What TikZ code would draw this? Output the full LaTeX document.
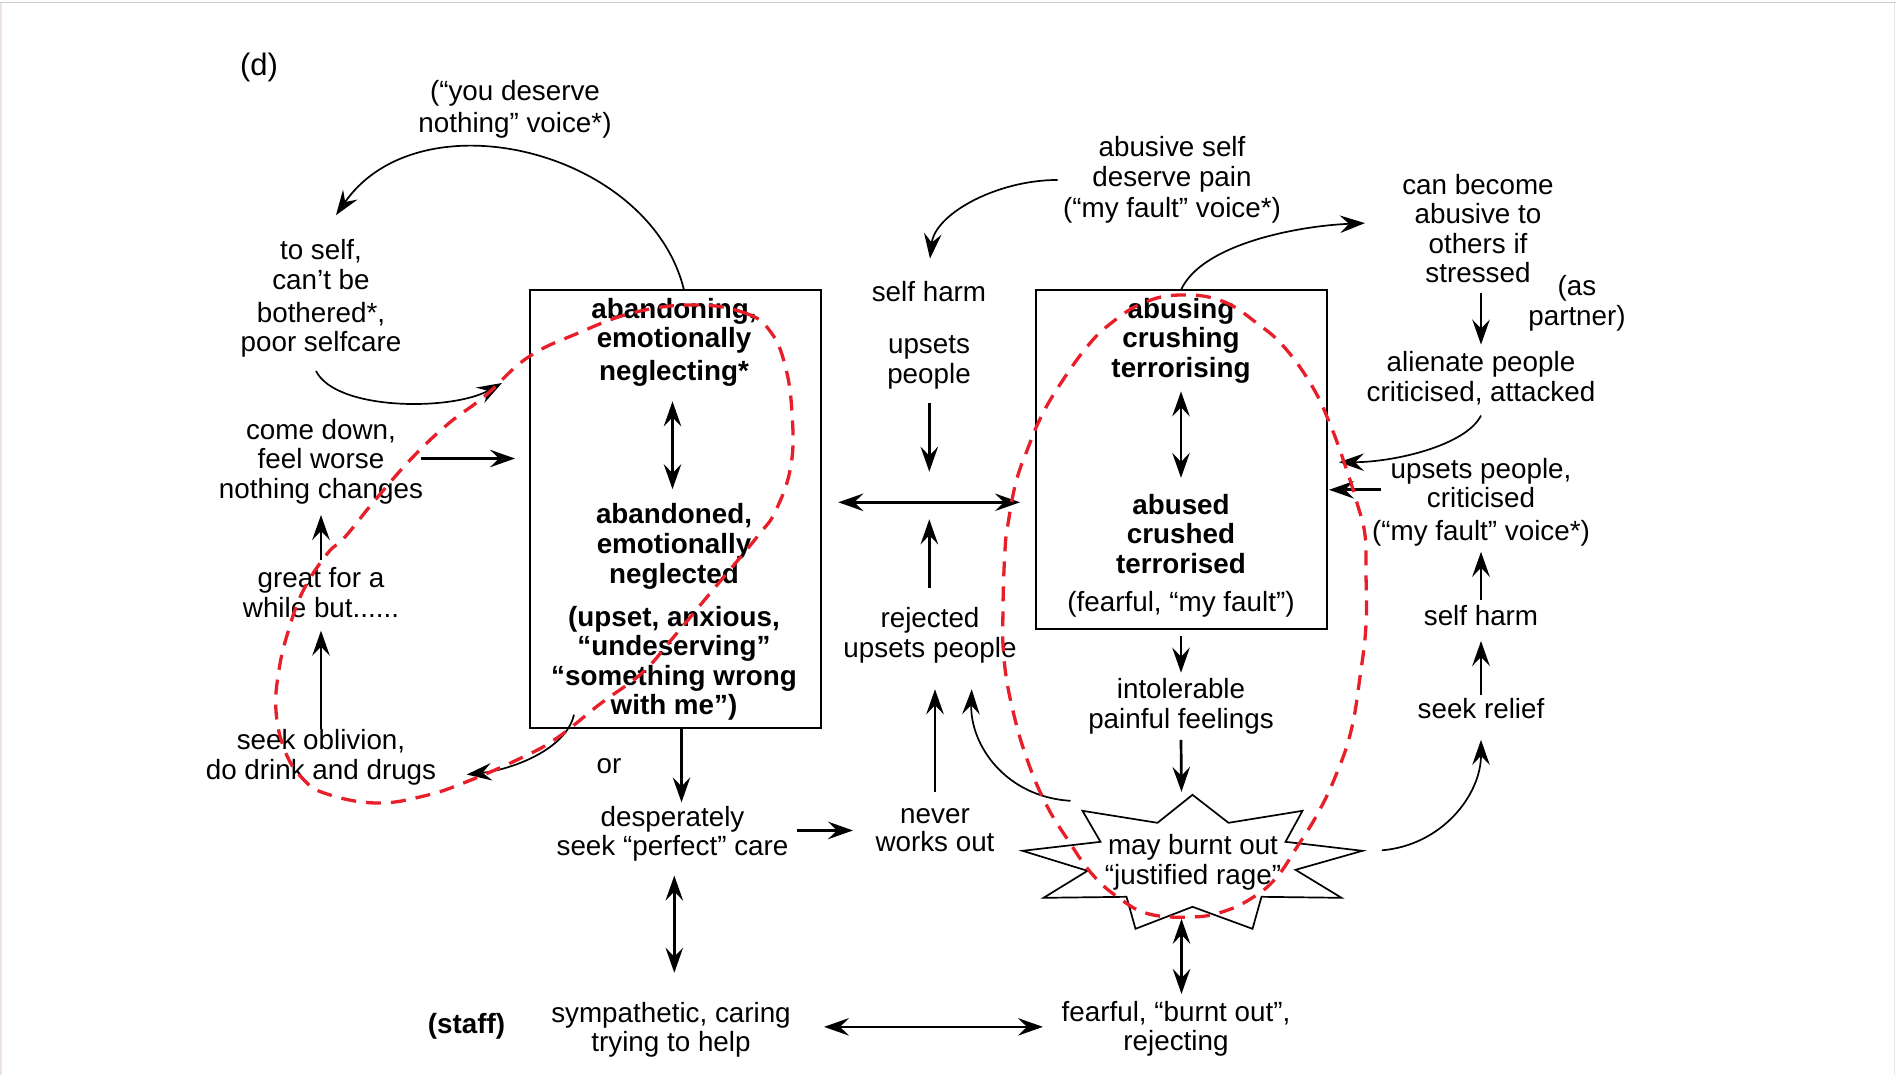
\documentclass[tikz,border=0pt]{standalone}
\usepackage{fontspec}
\setmainfont{Liberation Sans}
\usetikzlibrary{arrows.meta,calc}
\definecolor{ringred}{RGB}{232,30,40}
\definecolor{edgegray}{RGB}{205,205,205}
\definecolor{edgepink}{RGB}{238,226,230}
\newcommand\txtsize{\fontsize{27.8pt}{29.5pt}\selectfont}

\begin{document}
\begin{tikzpicture}[x=1pt,y=-1pt,
  lbl/.style={font=\txtsize, align=center, inner sep=0pt, outer sep=0pt, anchor=base},
  blbl/.style={lbl, font=\txtsize\bfseries},
  boxframe/.style={draw, line width=2.8pt, inner sep=0pt, outer sep=0pt},
  headtip/.style={-{Stealth[length=25pt,width=17.5pt,inset=9pt]}},
  arr/.style={line width=2.7pt, headtip},
  darr/.style={line width=2.7pt, {Stealth[length=25pt,width=17.5pt,inset=9pt]}-{Stealth[length=25pt,width=17.5pt,inset=9pt]}},
  curv/.style={line width=1.7pt, headtip},
  burst/.style={draw, line width=1.7pt, line join=miter},
  ringdash/.style={draw=ringred, line width=3.3pt, dash pattern=on 15pt off 10pt},
]
% (a multi-line label is placed by the baseline of its last line)
\useasboundingbox (0,0) rectangle (1896,1075);
\fill[white] (0,0) rectangle (1896,1075);
\draw[edgegray, line width=1.5pt] (0,2.5) -- (1896,2.5);
\draw[edgepink, line width=1.5pt] (0.75,3) -- (0.75,1075);
\draw[edgepink, line width=1.5pt] (1894.5,3) -- (1894.5,1075);

% ---------- left column ----------
\node[lbl, font=\fontsize{31pt}{34pt}\selectfont] (tag) at (259,76) {(d)};
\node[lbl] (voice) at (515,132.6) {(“you deserve\\[2.5pt]nothing” voice*)};
\node[lbl] (toself) at (321,352) {to self,\\can’t be\\[3.5pt]bothered*,\\poor selfcare};
\node[lbl] (comedown) at (321,498) {come down,\\feel worse\\nothing changes};
\node[lbl] (great) at (321,617) {great for a\\while but......};
\node[lbl] (oblivion) at (321,779) {seek oblivion,\\do drink and drugs};

% ---------- left box ----------
\node[boxframe, minimum width=291pt, minimum height=438pt] (boxL) at (675.5,509) {};
\node[blbl] (abandoning) at (674,380.5) {abandoning,\\emotionally\\[3pt]neglecting*};
\node[blbl] (abandoned) at (674,583.5) {abandoned,\\[0.5pt]emotionally\\[0.5pt]neglected};
\node[blbl] (upset) at (674,714.5) {(upset, anxious,\\“undeserving”\\“something wrong\\with me”)};

% ---------- right box ----------
\node[boxframe, minimum width=291pt, minimum height=339pt] (boxR) at (1181.5,459.5) {};
\node[blbl] (abusing) at (1181,377.3) {abusing\\crushing\\terrorising};
\node[blbl] (abused) at (1181,573) {abused\\crushed\\terrorised};
\node[lbl] (fearfulfault) at (1181,611.7) {(fearful, “my fault”)};

% ---------- middle column ----------
\node[lbl] (selfharmM) at (929,301.7) {self harm};
\node[lbl] (upsetsM) at (929,383.3) {upsets\\people};
\coordinate (hub) at (929.3,502.3);
\node[lbl] (rejected) at (930,657.3) {rejected\\upsets people};
\node[lbl] (never) at (935,851.7) {never\\[-1pt]works out};
\node[lbl] (or) at (609,773.7) {or};
\node[lbl] (desperate) at (672.5,855.6) {desperately\\seek “perfect” care};
\node[blbl] (staff) at (466.5,1033) {(staff)};
\node[lbl] (sympathetic) at (671,1051.8) {sympathetic, caring\\trying to help};
\node[lbl] (burntout) at (1176,1050) {fearful, “burnt out”,\\[-1pt]rejecting};

% ---------- right column ----------
\node[lbl] (abusive) at (1172,217.2) {abusive self\\deserve pain\\[1.5pt](“my fault” voice*)};
\node[lbl] (become) at (1478,282.8) {can become\\abusive to\\others if\\stressed};
\node[lbl] (partner) at (1577,325.5) {(as\\partner)};
\node[lbl] (alienate) at (1481,401) {alienate people\\[0.5pt]criticised, attacked};
\node[lbl] (upsetsR) at (1481,540) {upsets people,\\[-0.5pt]criticised\\[3.5pt](“my fault” voice*)};
\node[lbl] (selfharmR) at (1481,625.3) {self harm};
\node[lbl] (relief) at (1481,718) {seek relief};
\node[lbl] (intolerable) at (1181,728) {intolerable\\painful feelings};
\node[lbl] (star) at (1193,884) {may burnt out\\“justified rage”};

% burst outline round the rage label
\draw[burst, shift={(star.center)}]
  (-0.5,-67.25) -- (35.5,-39.25) -- (109.5,-51.25) -- (92.5,-20.25) -- (169.5,-11.25)
  -- (102.5,7.75) -- (148.5,35.75) -- (68.5,34.75) -- (59.5,66.75) -- (-0.5,44.75)
  -- (-57.5,66.75) -- (-66.5,34.75) -- (-149.5,35.75) -- (-105.5,8.75) -- (-170.5,-11.25)
  -- (-92.5,-20.25) -- (-110.5,-51.25) -- (-35.5,-39.25) -- cycle;

% ---------- connectors, left ----------
\draw[curv] ($(boxL.north)+(8.5,0)$) .. controls +(-34,-140) and +(84,-121) .. ($(toself.north)+(15,-24.7)$);
\draw[curv] ($(toself.south)+(-5,13.2)$) .. controls +(20,40) and +(-50,28) .. ($(boxL.north west)+(-28,93)$);
\draw[arr] ($(comedown.east)+(-2.5,-2.8)$) -- ($(boxL.west |- comedown.east)+(-15,-2.8)$);
\draw[arr] ($(great.north)+(0,-7.2)$) -- ($(comedown.south)+(0,11.2)$);
\draw[arr] ($(oblivion.north)+(0,-0.3)$) -- ($(great.south)+(0,13.4)$);
\draw[curv] ($(boxL.south)+(-101.5,-13.3)$) .. controls +(-8,35) and +(45,-5) .. ($(oblivion.east)+(30.5,17.5)$);
\draw[darr] ($(abandoning.south)+(-1.5,15)$) -- ($(abandoning.south |- abandoned.north)+(-1.5,-14.2)$);

% ---------- connectors, bottom and middle ----------
\draw[arr] ($(boxL.south)+(6,0)$) -- ($(boxL.south |- desperate.north)+(6,-3.6)$);
\draw[darr] ($(desperate.south)+(1.8,14.2)$) -- ($(desperate.south |- sympathetic.north)+(1.8,-29.4)$);
\draw[arr] ($(desperate.east)+(8.2,-3.2)$) -- ($(never.west |- desperate.east)+(-22.5,-3.2)$);
\draw[arr] ($(never.north)+(0,-16)$) -- ($(never.north |- rejected.south)+(0,26.2)$);
\draw[curv] ($(star.center)+(-122.5,-61.25)$) .. controls +(-65,-4) and +(-1.7,55.7) .. ($(rejected.south)+(41.7,26.2)$);
\draw[arr] ($(hub |- rejected.north)+(0,-19.4)$) -- ($(hub)+(0,17)$);
\draw[arr] ($(hub |- upsetsM.south)+(0,13.7)$) -- ($(hub)+(0,-30.6)$);
\draw[darr] ($(boxL.east |- hub)+(17.3,0)$) -- ($(boxR.west |- hub)+(-16,0)$);
\draw[darr] ($(sympathetic.east)+(33.25,-3)$) -- ($(burntout.west |- sympathetic.east)+(-18.7,-3)$);

% ---------- connectors, right ----------
\draw[curv] ($(abusive.west)+(-5.6,0.2)$) .. controls +(-60,0) and +(5,-45) .. ($(selfharmM.north)+(1,-23)$);
\draw[curv] ($(boxR.north)+(-0.5,0)$) .. controls +(20,-45) and +(-70,3) .. ($(become.west)+(-37.3,-5.5)$);
\draw[arr] ($(become.south)+(3,9.6)$) -- ($(become.south |- alienate.north)+(3,-6.3)$);
\draw[curv] ($(alienate.south)+(0,11)$) .. controls +(-15,30) and +(55,0) .. ($(boxR.east)+(12,2.7)$);
\draw[arr] ($(upsetsR.west)+(9,-12)$) -- ($(boxR.east |- upsetsR.west)+(2,-12)$);
\draw[arr] ($(selfharmR.north)+(0,-5.6)$) -- ($(upsetsR.south)+(0,6)$);
\draw[arr] ($(relief.north)+(0,-2.5)$) -- ($(selfharmR.south)+(0,15.4)$);
\draw[curv] ($(star.center)+(188.9,-11.75)$) .. controls +(60,-5) and +(0,55) .. ($(relief.south)+(0,21.6)$);
\draw[darr] ($(abusing.south)+(0,8.2)$) -- ($(abusing.south |- abused.north)+(0,-16)$);
\draw[arr] ($(boxR.south)+(-0.5,6.5)$) -- ($(boxR.south |- intolerable.north)+(-0.5,-5.7)$);
\draw[arr] ($(intolerable.south)+(0,6.2)$) -- ($(star.center)+(-11.5,-70.25)$);
\draw[darr] ($(star.center)+(-11.5,56.75)$) -- ($(star.center |- burntout.north)+(-11.5,-7.4)$);

% ---------- red dashed rings ----------
\draw[ringdash] plot[smooth cycle, tension=0.7] coordinates {
  (697,305) (745,313) (770,331) (785,365) (792,413) (791,465) (776,510) (757,537)
  (712,591) (672,639) (642,673) (600,704) (557,738) (521,758) (466,782) (424,796)
  (376,803) (327,794) (303,779) (285,751) (276,711) (279,670) (288,632) (303,591)
  (327,554) (345,537) (376,499) (412,458) (448,424) (485,396) (527,358) (576,334) (636,312)};
\draw[ringdash] plot[smooth cycle, tension=0.7] coordinates {
  (1180,295) (1222,301) (1258,324) (1285,348) (1312,386) (1330,424) (1345,465) (1357,503)
  (1365,535) (1366,574) (1366,625) (1360,677) (1351,731) (1336,775) (1318,813) (1297,847)
  (1276,878) (1252,898) (1222,912) (1191,917) (1149,914) (1119,898) (1092,874) (1068,840)
  (1047,806) (1028,762) (1013,711) (1004,659) (1003,608) (1005,550) (1008,524) (1016,482)
  (1028,448) (1041,417) (1059,386) (1086,348) (1110,324) (1143,303)};
\end{tikzpicture}
\end{document}
